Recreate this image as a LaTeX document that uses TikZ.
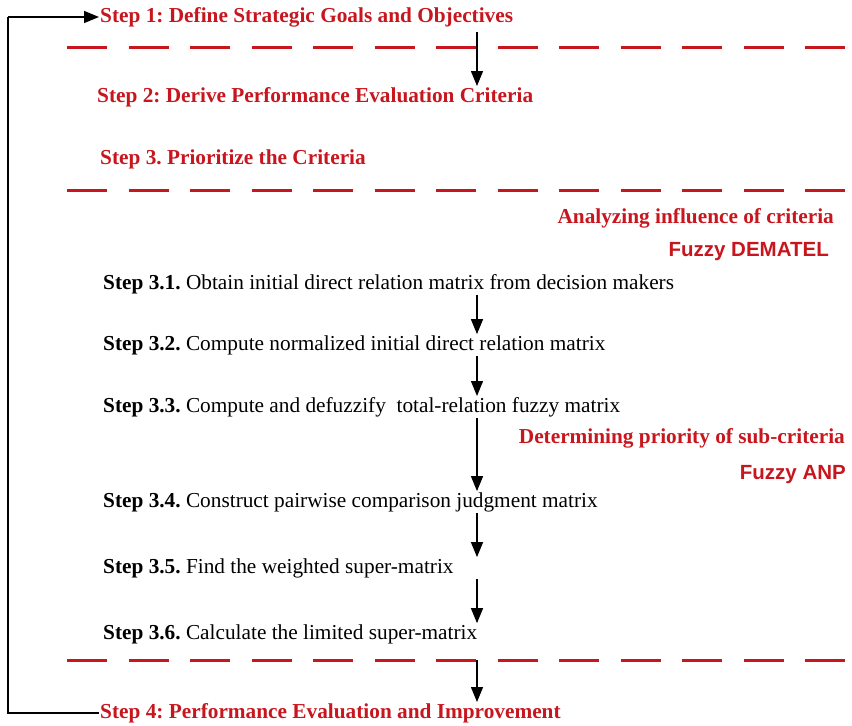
\documentclass[tikz,border=0pt]{standalone}
\usepackage{fontspec}
\setmainfont{Liberation Serif}
\newfontfamily\sansbf{Liberation Sans}
\usetikzlibrary{arrows.meta}
\definecolor{stepred}{RGB}{200,22,30}
\frenchspacing
\tikzset{
  mainstep/.style={anchor=west, inner sep=1pt, text=stepred, font=\fontsize{21.3}{24}\selectfont\bfseries},
  substep/.style={anchor=west, inner sep=1pt, font=\fontsize{21.3}{24}\selectfont},
  methodnote/.style={anchor=east, inner sep=1pt, text=stepred, font=\fontsize{21.3}{24}\selectfont\bfseries},
  methodname/.style={anchor=east, inner sep=1pt, text=stepred, font=\fontsize{20.5}{24}\selectfont\sansbf\bfseries},
  redline/.style={stepred, line width=3pt, dash pattern=on 40pt off 21.5pt},
  flow/.style={-{Triangle[length=15pt,width=12pt]}, line width=1.3pt},
  loopback/.style={line width=1.3pt}
}
\begin{document}
\begin{tikzpicture}[x=1pt, y=-1pt]
          \useasboundingbox (0,0) rectangle (852,726);
          % Main steps
          \node[mainstep] (s1) at (99,17) {Step 1: Define Strategic Goals and Objectives};
          \node[mainstep] (s2) at (96,97) {Step 2: Derive Performance Evaluation Criteria};
          \node[mainstep] (s3) at (99,159) {Step 3. Prioritize the Criteria};
          \node[mainstep] (s4) at (99,713) {Step 4: Performance Evaluation and Improvement};

          % Method labels on the right
          \node[methodnote] (dematelnote) at (835,218) {Analyzing influence of criteria};
          \node[methodname] (dematel) at (830,252) {Fuzzy DEMATEL};
          \node[methodnote] (anpnote) at (846,438) {Determining priority of sub-criteria};
          \node[methodname] (anp) at (847,475) {Fuzzy ANP};

          % Sub-steps of step 3
          \node[substep] (s31) at (102,284) {\textbf{Step 3.1.} Obtain initial direct relation matrix from decision makers};
          \node[substep] (s32) at (102,345) {\textbf{Step 3.2.} Compute normalized initial direct relation matrix};
          \node[substep] (s33) at (102,407) {\textbf{Step 3.3.} Compute and defuzzify\ \ total-relation fuzzy matrix};
          \node[substep] (s34) at (102,502) {\textbf{Step 3.4.} Construct pairwise comparison judgment matrix};
          \node[substep] (s35) at (102,568) {\textbf{Step 3.5.} Find the weighted super-matrix};
          \node[substep] (s36) at (102,634) {\textbf{Step 3.6.} Calculate the limited super-matrix};

          % Red dashed separators
          \coordinate (d1a) at (67,47);  \coordinate (d1b) at (845,47);
          \coordinate (d2a) at (67,190); \coordinate (d2b) at (845,190);
          \coordinate (d3a) at (67,660); \coordinate (d3b) at (852,660);
          \draw[redline] (d1a) -- (d1b);
          \draw[redline] (d2a) -- (d2b);
          \draw[redline] (d3a) -- (d3b);

          % Vertical flow arrows
          \coordinate (ax) at (477,0);
          \draw[flow] (s1.south -| ax) ++(0,4) -- (s2.north -| ax);
          \draw[flow] (s31.south -| ax) -- (s32.north -| ax);
          \draw[flow] (s32.south -| ax) -- (s33.north -| ax);
          \draw[flow] (s33.south -| ax) -- (s34.north -| ax);
          \draw[flow] (s34.south -| ax) -- (s35.north -| ax);
          \draw[flow] (s35.south -| ax) -- (s36.north -| ax);
          \draw[flow] (d3a -| ax) -- (s4.north -| ax);

          % Feedback loop from step 4 back to step 1
          \coordinate (lx) at (8,0);
          \draw[loopback] (s4.west) -- (s4.west -| lx) -- (s1.west -| lx);
          \draw[flow] (s1.west -| lx) -- (s1.west);
\end{tikzpicture}
\end{document}
